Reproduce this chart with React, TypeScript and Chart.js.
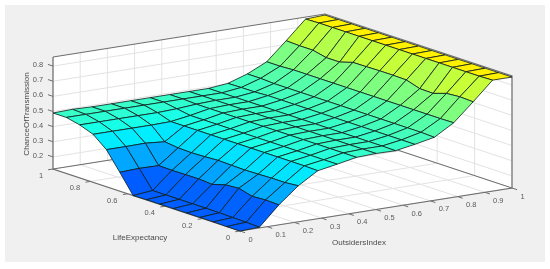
import React, { useEffect, useRef } from "react";
import { Chart, registerables } from "chart.js";

Chart.register(...registerables);

const xTicks = [0, 0.1, 0.2, 0.3, 0.4, 0.5, 0.6, 0.7, 0.8, 0.9, 1];
const yTicks = [0, 0.2, 0.4, 0.6, 0.8, 1];
const zTicks = [0.2, 0.3, 0.4, 0.5, 0.6, 0.7, 0.8];
const xTitle = "OutsidersIndex";
const yTitle = "LifeExpectancy";
const zTitle = "ChanceOfTransmission";
const zRange = [0.12, 0.86];

// Surface heights: one row per OutsidersIndex step (15 points), one value per LifeExpectancy step (15 points)
const surface: number[][] = [
  [0.12, 0.12, 0.122, 0.122, 0.122, 0.122, 0.122, 0.122, 0.12, 0.245, 0.365, 0.437, 0.47, 0.49, 0.49],
  [0.125, 0.128, 0.13, 0.132, 0.133, 0.133, 0.133, 0.133, 0.133, 0.25, 0.365, 0.437, 0.47, 0.49, 0.494],
  [0.252, 0.255, 0.25, 0.274, 0.267, 0.241, 0.248, 0.247, 0.246, 0.248, 0.367, 0.437, 0.47, 0.49, 0.49],
  [0.358, 0.35, 0.35, 0.347, 0.345, 0.347, 0.35, 0.345, 0.342, 0.345, 0.356, 0.437, 0.47, 0.49, 0.49],
  [0.437, 0.44, 0.44, 0.44, 0.44, 0.44, 0.44, 0.44, 0.44, 0.44, 0.44, 0.44, 0.47, 0.49, 0.49],
  [0.46, 0.46, 0.46, 0.46, 0.46, 0.46, 0.46, 0.46, 0.46, 0.46, 0.46, 0.46, 0.475, 0.49, 0.49],
  [0.485, 0.485, 0.485, 0.485, 0.485, 0.485, 0.485, 0.485, 0.485, 0.485, 0.485, 0.485, 0.485, 0.49, 0.49],
  [0.49, 0.49, 0.49, 0.49, 0.49, 0.49, 0.49, 0.49, 0.49, 0.49, 0.49, 0.49, 0.49, 0.49, 0.49],
  [0.488, 0.49, 0.49, 0.49, 0.49, 0.49, 0.49, 0.49, 0.49, 0.49, 0.49, 0.49, 0.49, 0.49, 0.49],
  [0.51, 0.51, 0.51, 0.51, 0.51, 0.51, 0.51, 0.51, 0.51, 0.51, 0.51, 0.51, 0.505, 0.505, 0.503],
  [0.536, 0.54, 0.54, 0.54, 0.54, 0.54, 0.54, 0.54, 0.54, 0.54, 0.54, 0.54, 0.54, 0.545, 0.545],
  [0.612, 0.61, 0.61, 0.61, 0.61, 0.61, 0.61, 0.61, 0.61, 0.61, 0.61, 0.61, 0.61, 0.605, 0.605],
  [0.73, 0.734, 0.727, 0.698, 0.7, 0.728, 0.73, 0.73, 0.728, 0.727, 0.7, 0.7, 0.72, 0.72, 0.724],
  [0.853, 0.85, 0.85, 0.85, 0.85, 0.85, 0.85, 0.85, 0.85, 0.85, 0.85, 0.85, 0.85, 0.85, 0.847],
  [0.853, 0.853, 0.853, 0.853, 0.853, 0.853, 0.853, 0.853, 0.853, 0.853, 0.853, 0.853, 0.853, 0.853, 0.853],
];

const project = (x: number, y: number, z: number) => ({
  x: 240 + 272 * x - 187 * y,
  y: 231 - 43 * x - 62 * y - ((z - zRange[0]) / (zRange[1] - zRange[0])) * 112,
});

const jet = (t: number) => {
  const c = (v: number) => Math.round(255 * Math.max(0, Math.min(1, v)));
  const r = c(Math.min(4 * t - 1.5, -4 * t + 4.5));
  const g = c(Math.min(4 * t - 0.5, -4 * t + 3.5));
  const b = c(Math.min(4 * t + 0.5, -4 * t + 2.5));
  return `rgb(${r},${g},${b})`;
};
const zColor = (z: number) => jet(0.215 + (z - zRange[0]) * 0.58);

const base = { pointRadius: 0, pointHoverRadius: 0, tension: 0, clip: false as const, showLine: true };

const line = (pts: number[][], color: string, width = 1) => ({
  ...base,
  data: pts.map((p) => project(p[0], p[1], p[2])),
  borderColor: color,
  borderWidth: width,
  fill: false,
});

const face = (pts: number[][], fillColor: string, edge: string, width: number) => ({
  ...base,
  data: pts.map((p) => project(p[0], p[1], p[2])),
  backgroundColor: fillColor,
  borderColor: edge,
  borderWidth: width,
  fill: "shape",
});

function buildDatasets() {
  const [z0, z1] = zRange;
  const grid = "#e3e3e3";
  const box = "#6e6e6e";
  const layers: any[] = [];
  layers.push(face([[0, 1, z0], [1, 1, z0], [1, 1, z1], [0, 1, z1], [0, 1, z0]], "#fff", "#fff", 0));
  layers.push(face([[1, 1, z0], [1, 0, z0], [1, 0, z1], [1, 1, z1], [1, 1, z0]], "#fff", "#fff", 0));
  layers.push(face([[0, 0, z0], [1, 0, z0], [1, 1, z0], [0, 1, z0], [0, 0, z0]], "#fff", "#fff", 0));
  xTicks.forEach((t) => {
    layers.push(line([[t, 0, z0], [t, 1, z0], [t, 1, z1]], grid));
  });
  yTicks.forEach((t) => {
    layers.push(line([[0, t, z0], [1, t, z0], [1, t, z1]], grid));
  });
  zTicks.forEach((t) => {
    layers.push(line([[0, 1, t], [1, 1, t], [1, 0, t]], grid));
  });
  layers.push(line([[0, 1, z1], [0, 1, z0], [0, 0, z0], [1, 0, z0], [1, 0, z1], [1, 1, z1], [0, 1, z1]], box, 1.2));
  layers.push(line([[0, 1, z0], [1, 1, z0], [1, 0, z0]], box, 1));
  xTicks.forEach((t) => layers.push(line([[t, 0, z0], [t, -0.027, z0]], box)));
  yTicks.forEach((t) => layers.push(line([[0, t, z0], [-0.018, t, z0]], box)));
  zTicks.forEach((t) => layers.push(line([[0, 1, t], [0, 1.027, t]], box)));

  const n = surface.length - 1;
  const m = surface[0].length - 1;
  for (let i = n - 1; i >= 0; i--) {
    for (let j = m - 1; j >= 0; j--) {
      const a = [i / n, j / m, surface[i][j]];
      const b = [(i + 1) / n, j / m, surface[i + 1][j]];
      const c = [(i + 1) / n, (j + 1) / m, surface[i + 1][j + 1]];
      const d = [i / n, (j + 1) / m, surface[i][j + 1]];
      layers.push(face([a, b, c, d, a], zColor(surface[i][j]), "rgba(15,30,30,0.9)", 0.9));
    }
  }
  return layers.reverse();
}

const panel = {
  id: "panel",
  beforeDraw(chart: any) {
    const { ctx, scales } = chart;
    const sx = scales.x;
    const sy = scales.y;
    ctx.save();
    ctx.fillStyle = "#fff";
    ctx.fillRect(0, 0, chart.width, chart.height);
    ctx.fillStyle = "#f0f0f0";
    ctx.fillRect(sx.getPixelForValue(5), sy.getPixelForValue(5), 540, 257);
    ctx.restore();
  },
};

const labels = {
  id: "labels",
  afterDatasetsDraw(chart: any) {
    const { ctx, scales } = chart;
    const [z0] = zRange;
    const px = (p: { x: number; y: number }, dx: number, dy: number) => [
      scales.x.getPixelForValue(p.x + dx),
      scales.y.getPixelForValue(p.y + dy),
    ];
    const put = (text: string, at: number[], font: string, color: string) => {
      ctx.font = font;
      ctx.fillStyle = color;
      ctx.fillText(text, at[0], at[1]);
    };
    ctx.save();
    ctx.textAlign = "center";
    ctx.textBaseline = "middle";
    const tickFont = "7.5px 'Liberation Sans'";
    const titleFont = "8px 'Liberation Sans'";
    const tc = "#5a5a5a";
    xTicks.forEach((t) => {
      const s = String(t);
      put(s, px(project(t, 0, z0), s.length > 1 ? 13.5 : 10.5, 8.5), tickFont, tc);
    });
    yTicks.forEach((t) => {
      const s = String(t);
      put(s, px(project(0, t, z0), s.length > 1 ? -15.5 : -12, 7), tickFont, tc);
    });
    zTicks.forEach((t) => {
      put(String(t), px(project(0, 1, t), -15, -1), tickFont, tc);
    });
    put(yTitle, px({ x: 140, y: 238 }, 0, 0), titleFont, "#4a4a4a");
    put(xTitle, px({ x: 359, y: 243 }, 0, 0), titleFont, "#4a4a4a");
    ctx.translate(scales.x.getPixelForValue(27), scales.y.getPixelForValue(114));
    ctx.rotate(-Math.PI / 2);
    put(zTitle, [0, 0], titleFont, "#4a4a4a");
    ctx.restore();
  },
};

export default function App() {
  const ref = useRef<HTMLCanvasElement | null>(null);
  useEffect(() => {
    document.body.style.margin = "0";
    const chart = new Chart(ref.current as HTMLCanvasElement, {
      type: "scatter",
      data: { datasets: buildDatasets() },
      options: {
        responsive: false,
        animation: false,
        events: [],
        layout: { padding: 0 },
        plugins: { legend: { display: false }, tooltip: { enabled: false }, title: { display: false } },
        scales: {
          x: { type: "linear", min: 0, max: 550, display: false },
          y: { type: "linear", min: 0, max: 269, reverse: true, display: false },
        },
      },
      plugins: [panel, labels],
    } as any);
    return () => chart.destroy();
  }, []);
  return <canvas ref={ref} width={550} height={269} style={{ display: "block", width: 550, height: 269, filter: "blur(0.35px)" }} />;
}
